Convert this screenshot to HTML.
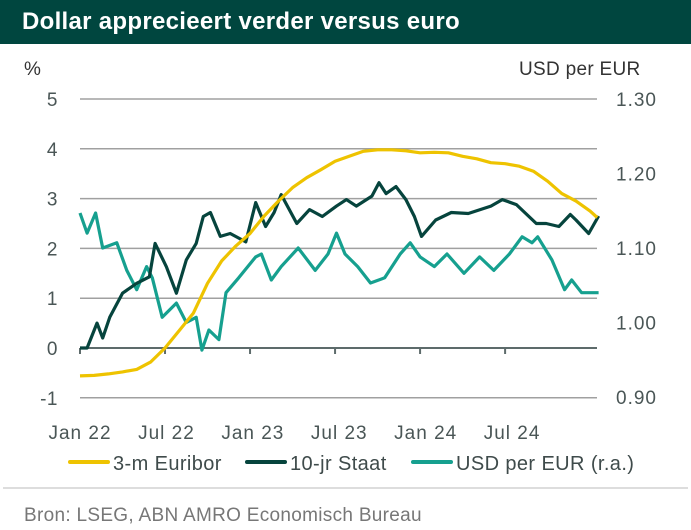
<!DOCTYPE html>
<html><head><meta charset="utf-8"><style>
body{margin:0;background:#fff;width:691px;height:530px;overflow:hidden;font-family:"Liberation Sans",sans-serif}
#title{position:absolute;left:0;top:0;width:691px;height:44px;background:#00463f;color:#fff;font-weight:bold;font-size:24px;letter-spacing:0.3px;line-height:44px;padding-left:22px;box-sizing:border-box}
svg{position:absolute;left:0;top:0}
</style></head><body>
<div id="title">Dollar apprecieert verder versus euro</div>
<svg id="c" width="691" height="530"></svg>
<script>
const leftTicks=[5,4,3,2,1,0,-1];
const rightTicks=["1.30","1.20","1.10","1.00","0.90"];
const xLabels=["Jan 22","Jul 22","Jan 23","Jul 23","Jan 24","Jul 24"];
const euriborMonths=[0,1,2,3,4,5,6,7,8,9,10,11,12,13,14,15,16,17,18,19,20,21,22,23,24,25,26,27,28,29,30,31,32,33,34,35,36,36.5];
const euriborVals=[-0.56,-0.55,-0.52,-0.48,-0.43,-0.28,0.0,0.35,0.7,1.3,1.75,2.05,2.3,2.65,2.95,3.22,3.42,3.58,3.75,3.85,3.95,3.98,3.98,3.96,3.92,3.93,3.92,3.85,3.8,3.72,3.7,3.65,3.55,3.35,3.1,2.95,2.75,2.62];
const staatMonths=[0,0.5,1.2,1.6,2.1,3,4,4.9,5.3,6.1,6.8,7.5,8.2,8.7,9.2,9.9,10.6,11.7,12.4,13.1,13.7,14.2,15.3,16.2,17.1,18.1,18.8,19.5,20.6,21.1,21.6,22.3,23,23.6,24.1,25.1,26.2,27.4,29,29.8,30.8,32.2,32.9,33.8,34.6,35,35.9,36.6];
const staatVals=[0.0,0.0,0.5,0.2,0.62,1.1,1.3,1.43,2.1,1.63,1.1,1.77,2.1,2.64,2.72,2.24,2.3,2.13,2.92,2.44,2.72,3.08,2.5,2.78,2.64,2.85,2.98,2.85,3.05,3.32,3.1,3.24,2.98,2.64,2.24,2.57,2.72,2.7,2.85,2.98,2.88,2.5,2.5,2.44,2.68,2.57,2.3,2.65];
const usdMonths=[0,0.5,1.1,1.6,2.6,3.3,4,4.7,5.1,5.8,6.8,7.5,8.2,8.6,9.1,9.8,10.3,11.2,12.4,12.8,13.5,14.2,15.4,16.6,17.5,18.1,18.7,19.6,20.5,21.5,22.6,23.3,24,25,25.9,27.1,28.2,29.2,30.3,31.2,31.9,32.3,33.3,34.2,34.7,35.4,36.6];
const usdVals=[1.147,1.12,1.147,1.10,1.107,1.07,1.044,1.075,1.06,1.007,1.026,1.0,1.007,0.963,0.99,0.977,1.04,1.06,1.088,1.092,1.057,1.075,1.10,1.07,1.092,1.12,1.092,1.075,1.053,1.06,1.092,1.107,1.088,1.075,1.092,1.066,1.088,1.07,1.092,1.115,1.107,1.115,1.084,1.044,1.057,1.04,1.04];

const NS="http://www.w3.org/2000/svg",svg=document.getElementById('c');
const X0=80,X1=597,PXM=14.17;
const xs=m=>X0+m*PXM;
const yl=v=>348-v*49.8;
const yr=v=>99+(1.30-v)*745;
function mk(t,a,txt){const e=document.createElementNS(NS,t);for(const k in a)e.setAttribute(k,a[k]);if(txt!=null)e.textContent=txt;svg.appendChild(e);return e;}
leftTicks.forEach(v=>{
 if(v!==0){const g=mk('line',{x1:X0,x2:X1,y1:yl(v),y2:yl(v),stroke:'#a0a0a0','stroke-width':1.5});
 
 }
 const t=mk('text',{x:58,y:yl(v)+7,'text-anchor':'end','font-size':19,'letter-spacing':0.5,fill:'#4a5656'},v);
 
 
});
rightTicks.forEach(v=>{
 const t=mk('text',{x:616,y:yr(+v)+7,'font-size':19,'letter-spacing':1,fill:'#4a5656'},v);
 
 
});
const ax=mk('line',{x1:X0,x2:X1,y1:yl(0),y2:yl(0),stroke:'#5d6b6b','stroke-width':2});


xLabels.forEach((l,i)=>{
 const tk=mk('line',{x1:xs(i*6),x2:xs(i*6),y1:yl(0),y2:yl(0)+6,stroke:'#5d6b6b','stroke-width':2});
 
 
 const t=mk('text',{x:xs(i*6)+i*1.4,y:439,'text-anchor':'middle','font-size':19,'letter-spacing':1,fill:'#4a5656'},l);
 
 
});
function line(ms,vs,yf,col,name){
 const d=ms.map((m,i)=>(i?'L':'M')+xs(m).toFixed(1)+' '+yf(vs[i]).toFixed(1)).join(' ');
 const p=mk('path',{d:d,fill:'none',stroke:col,'stroke-width':3.2,'stroke-linejoin':'round'});
 
 
}
line(usdMonths,usdVals,yr,'#16a08f','usd-per-eur-line');
line(staatMonths,staatVals,yl,'#06443d','10jr-staat-line');
line(euriborMonths,euriborVals,yl,'#eec300','euribor-line');
const u1=mk('text',{x:24,y:75,'font-size':19,fill:'#333'},'%');


const u2=mk('text',{x:519,y:75,'font-size':19,'letter-spacing':0.3,fill:'#333'},'USD per EUR');


[['#eec300','3-m Euribor',68],['#06443d','10-jr Staat',245],['#16a08f','USD per EUR (r.a.)',411]].forEach(([c,l,x])=>{
 const s=mk('line',{x1:x+2,x2:x+40,y1:462,y2:462,stroke:c,'stroke-width':4,'stroke-linecap':'round'});
 
 
 const t=mk('text',{x:x+45,y:470,'font-size':20,'letter-spacing':0.4,fill:'#3f4b4b'},l);
 
 
});
const sep=mk('line',{x1:3,x2:688,y1:488,y2:488,stroke:'#bbb','stroke-width':1});


const src=mk('text',{x:24,y:521,'font-size':19,'letter-spacing':0.3,fill:'#777'},'Bron: LSEG, ABN AMRO Economisch Bureau');


</script>
</body></html>
